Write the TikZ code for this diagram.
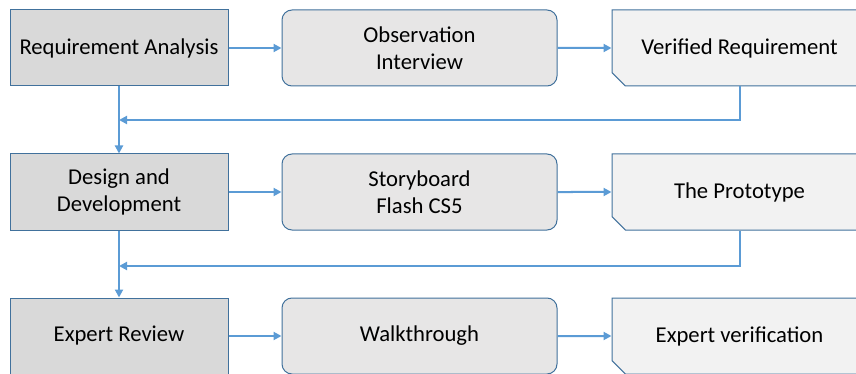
\documentclass[tikz,border=0pt]{standalone}
\usepackage{fontspec}
\setmainfont{Carlito}
\usetikzlibrary{arrows.meta,shapes.misc}

\definecolor{linkblue}{RGB}{91,155,213}
\definecolor{edgeblue}{RGB}{65,113,156}
\definecolor{stagegray}{RGB}{217,217,217}
\definecolor{methodgray}{RGB}{231,230,230}
\definecolor{resultgray}{RGB}{242,242,242}

\tikzset{every picture/.style={line width=0.75pt},
	stagebox/.style={draw=edgeblue, fill=stagegray, minimum width=163.5pt, minimum height=57pt, align=center, font=\fontsize{17}{20}\selectfont},
	methodbox/.style={draw=edgeblue, fill=methodgray, rounded corners=7.5pt, minimum width=206.25pt, minimum height=57pt, align=center, font=\fontsize{17}{20}\selectfont},
	resultbox/.style={draw=edgeblue, fill=resultgray, chamfered rectangle, chamfered rectangle corners=south west, chamfered rectangle sep=5pt, minimum width=191.25pt, minimum height=57pt, inner sep=0pt, align=center, font=\fontsize{17}{20}\selectfont},
	link/.style={draw=linkblue, line width=1.5pt, -{Triangle[length=6pt,width=6pt]}}
}

\begin{document}
\begin{tikzpicture}[x=0.75pt,y=0.75pt,yscale=-1,xscale=1]
	\useasboundingbox (0,0) rectangle (856,374);
	
	%Shape: Rectangle [stages]
	\node [stagebox] (ra) at (119,48) {Requirement Analysis};
	\node [stagebox] (dd) at (119,192) {Design and\\Development};
	\node [stagebox] (er) at (119,336) {Expert Review};
	
	%Rounded Rect [methods]
	\node [methodbox] (oi) at (419.5,48) {Observation\\Interview};
	\node [methodbox] (sf) at (419.5,192) {Storyboard\\Flash CS5};
	\node [methodbox] (wt) at (419.5,336) {Walkthrough};
	
	%Shape: Snip Rect [results]
	\node [resultbox] (vr) at (739.5,48) {Verified Requirement};
	\node [resultbox] (tp) at (739.5,192) {The Prototype};
	\node [resultbox] (ev) at (739.5,336) {Expert verification};
	
	%Straight Lines [feedback joints]
	\coordinate (j1) at (119,120);
	\coordinate (j2) at (119,266);
	
	%Straight Lines [row 1]
	\draw [link] (ra) -- (oi);
	\draw [link] (oi) -- (vr);
	\draw [link] (vr.south) |- (j1);
	\draw [link] (ra) -- (dd);
	
	%Straight Lines [row 2]
	\draw [link] (dd) -- (sf);
	\draw [link] (sf) -- (tp);
	\draw [link] (tp.south) |- (j2);
	\draw [link] (dd) -- (er);
	
	%Straight Lines [row 3]
	\draw [link] (er) -- (wt);
	\draw [link] (wt) -- (ev);
	
\end{tikzpicture}
\end{document}
